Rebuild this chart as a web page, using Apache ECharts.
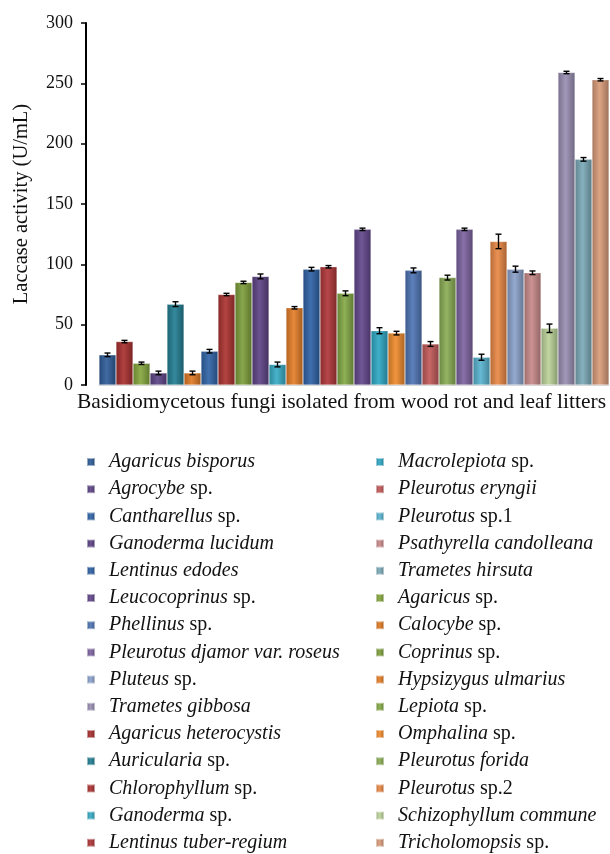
<!DOCTYPE html>
<html>
<head>
<meta charset="utf-8">
<script src="https://cdn.jsdelivr.net/npm/echarts@6/dist/echarts.min.js"></script>
<style>
html,body{margin:0;padding:0;background:#fff;}
#chart{width:610px;height:854px;}
</style>
</head>
<body>
<div id="chart"></div>
<script>
// Species in bar order (left to right)
const species = [
  'Agaricus bisporus','Agaricus heterocystis','Agaricus sp.','Agrocybe sp.','Auricularia sp.','Calocybe sp.',
  'Cantharellus sp.','Chlorophyllum sp.','Coprinus sp.','Ganoderma lucidum','Ganoderma sp.','Hypsizygus ulmarius',
  'Lentinus edodes','Lentinus tuber-regium','Lepiota sp.','Leucocoprinus sp.','Macrolepiota sp.','Omphalina sp.',
  'Phellinus sp.','Pleurotus eryngii','Pleurotus forida','Pleurotus djamor var. roseus','Pleurotus sp.1','Pleurotus sp.2',
  'Pluteus sp.','Psathyrella candolleana','Schizophyllum commune','Trametes gibbosa','Trametes hirsuta','Tricholomopsis sp.'
];
// Laccase activity (U/mL)
const activity = [25, 36, 18, 10, 67, 10, 28, 75, 85, 90, 17, 64, 96, 98, 76,
                  129, 45, 43, 95, 34, 89, 129, 23, 119, 96, 93, 47, 259, 187, 253];
// Error (+/-)
const errorVal = [1.5, 1, 1, 1.5, 2, 1.5, 1.5, 1, 1, 2, 2, 1, 1.5, 1, 2,
                  1, 2.5, 1.5, 2, 2, 2, 1, 2.5, 6, 2.5, 1.5, 3.5, 1, 1.5, 1];
// Y-axis ticks
const yTicks = [0, 50, 100, 150, 200, 250, 300];

const palette = [
  '#2F5E9A','#A8302F','#86A83F','#5E4587','#237F93','#E07A26',
  '#3265A8','#AC3432','#7E9F3C','#5E4485','#38ACC6','#E57F2A',
  '#2F63A6','#B0373A','#84A947','#64488D','#2FA8C4','#F08C2E',
  '#4F75B5','#C25A5A','#8BAD55','#7E64A0','#5AB4D0','#E98846',
  '#8CA3CC','#C98A8A','#BCD49A','#9A8FB3','#7CAAB8','#D99C7A'
];

function shade(hex, f) {
  const n = parseInt(hex.slice(1), 16);
  let r = (n >> 16) & 255, g = (n >> 8) & 255, b = n & 255;
  if (f < 0) { r = r * (1 + f); g = g * (1 + f); b = b * (1 + f); }
  else { r = r + (255 - r) * f; g = g + (255 - g) * f; b = b + (255 - b) * f; }
  return 'rgb(' + Math.round(r) + ',' + Math.round(g) + ',' + Math.round(b) + ')';
}
function grad(hex) {
  return new echarts.graphic.LinearGradient(0, 0, 1, 0, [
    { offset: 0, color: shade(hex, -0.22) },
    { offset: 0.45, color: shade(hex, 0.08) },
    { offset: 1, color: shade(hex, -0.28) }
  ]);
}

const barSeries = species.map(function (name, i) {
  const data = activity.map(function (v, j) { return j === i ? v : null; });
  return {
    name: name,
    type: 'bar',
    stack: 'all',
    barCategoryGap: '0%',
    data: data,
    itemStyle: { color: grad(palette[i]), borderColor: 'rgba(255,255,255,0.5)', borderWidth: 0.5 },
    emphasis: { disabled: true }
  };
});

const errData = activity.map(function (v, i) { return [i, v - errorVal[i], v + errorVal[i]]; });

// legend order (Excel style): every third series
const order = [];
[0, 1, 2].forEach(function (r) { species.forEach(function (s, i) { if (i % 3 === r) order.push(s); }); });
const leftNames = order.slice(0, 15);
const rightNames = order.slice(15);

function fmt(name) {
  const m = name.match(/^(.*) (sp\.\d?)$/);
  if (m) return '{i|' + m[1] + '} {n|' + m[2] + '}';
  return '{i|' + name + '}';
}
const legendText = {
  fontFamily: 'Liberation Serif',
  fontSize: 20,
  color: '#111',
  lineHeight: 20,
  padding: [0, 0, 0, 9],
  rich: {
    i: { fontStyle: 'italic', fontFamily: 'Liberation Serif', fontSize: 20, color: '#111', lineHeight: 20 },
    n: { fontStyle: 'normal', fontFamily: 'Liberation Serif', fontSize: 20, color: '#111', lineHeight: 20 }
  }
};

const chart = echarts.init(document.getElementById('chart'), null, { renderer: 'canvas' });
chart.setOption({
  animation: false,
  backgroundColor: '#fff',
  title: {
    text: 'Basidiomycetous fungi isolated from wood rot and leaf litters',
    left: 77,
    top: 391,
    padding: 0,
    textStyle: { fontFamily: 'Liberation Serif', fontSize: 21.5, fontWeight: 'normal', color: '#111' }
  },
  legend: [
    {
      orient: 'vertical', left: 86, top: 452, height: 402, padding: 0, itemWidth: 8, itemHeight: 8, itemGap: 7.2,
      icon: 'rect', data: leftNames, formatter: fmt, textStyle: legendText, selectedMode: false
    },
    {
      orient: 'vertical', left: 375, top: 452, height: 402, padding: 0, itemWidth: 8, itemHeight: 8, itemGap: 7.2,
      icon: 'rect', data: rightNames, formatter: fmt, textStyle: legendText, selectedMode: false
    }
  ],
  grid: { left: 99, right: 1, top: 23, bottom: 469, containLabel: false },
  xAxis: {
    type: 'category',
    data: species,
    axisLine: { show: true, lineStyle: { color: '#D5D5D5', width: 1 } },
    axisTick: { show: false },
    axisLabel: { show: false },
    splitLine: { show: false }
  },
  yAxis: {
    type: 'value',
    min: yTicks[0],
    max: yTicks[yTicks.length - 1],
    interval: 50,
    offset: 13,
    name: 'Laccase activity (U/mL)',
    nameLocation: 'middle',
    nameRotate: 90,
    nameGap: 54,
    nameTextStyle: { fontFamily: 'Liberation Serif', fontSize: 20.5, color: '#111' },
    axisLine: { show: true, lineStyle: { color: '#000', width: 2 } },
    axisTick: { show: true, inside: false, length: 5, lineStyle: { color: '#000', width: 1.5 } },
    axisLabel: { margin: 13, fontFamily: 'Liberation Serif', fontSize: 18, color: '#111' },
    splitLine: { show: false }
  },
  series: barSeries.concat([{
    name: 'error',
    type: 'custom',
    z: 10,
    encode: { x: 0, y: [1, 2] },
    data: errData,
    renderItem: function (params, api) {
      const x = api.value(0);
      const lo = api.coord([x, api.value(1)]);
      const hi = api.coord([x, api.value(2)]);
      const w = 3;
      const st = { stroke: '#000', lineWidth: 1.4 };
      return {
        type: 'group',
        children: [
          { type: 'line', shape: { x1: lo[0], y1: lo[1], x2: hi[0], y2: hi[1] }, style: st },
          { type: 'line', shape: { x1: lo[0] - w, y1: lo[1], x2: lo[0] + w, y2: lo[1] }, style: st },
          { type: 'line', shape: { x1: hi[0] - w, y1: hi[1], x2: hi[0] + w, y2: hi[1] }, style: st }
        ]
      };
    }
  }])
});
</script>
</body>
</html>
